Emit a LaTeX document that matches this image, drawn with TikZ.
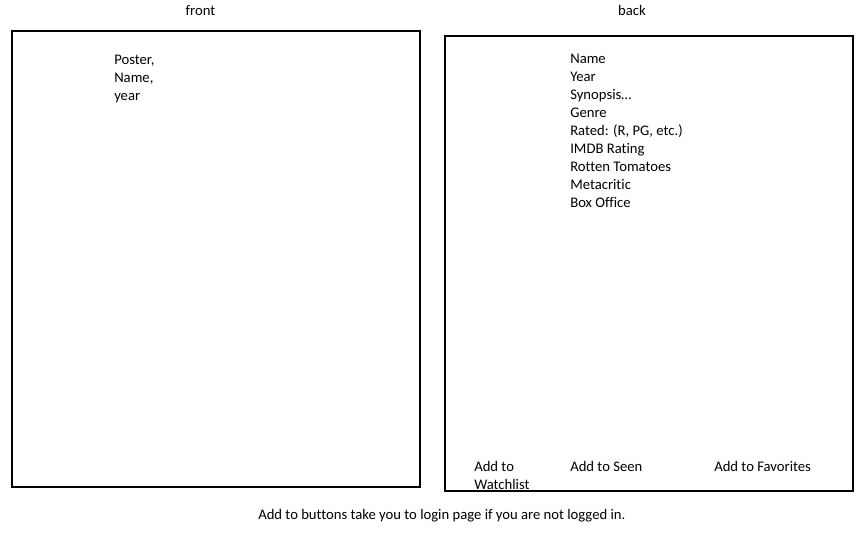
\documentclass[tikz,border=0pt]{standalone}
\usepackage{fontspec}
\setmainfont[Ligatures=NoCommon]{Carlito}
\usetikzlibrary{positioning}

\tikzset{
  card/.style={draw, line width=1.5pt},
  txt/.style={inner sep=0pt, anchor=base west, font=\fontsize{11}{13.5}\selectfont},
}

\begin{document}
\begin{tikzpicture}[x=0.75pt,y=-0.75pt]
  \useasboundingbox (0,0) rectangle (866,532);
  % titles
  \node[txt, anchor=base] (front) at (200.5,15) {front};
  \node[txt, anchor=base] (back)  at (632,15)   {back};
  % cards
  \draw[card] (12,31)  rectangle (420,487);  % front
  \draw[card] (445,36) rectangle (853,491);  % back
  % front side
  \node[txt] (poster) at (114,64)  {Poster,};
  \node[txt] (fname)  at (114,82)  {Name,};
  \node[txt] (fyear)  at (114,100) {year};
  % back side
  \node[txt] (name)     at (570,63)  {Name};
  \node[txt] (year)     at (570,81)  {Year};
  \node[txt] (synopsis) at (570,99)  {Synopsis\dots};
  \node[txt] (genre)    at (570,117) {Genre};
  \node[txt] (rated)    at (570,135) {Rated: (R, PG, etc.)};
  \node[txt] (imdb)     at (570,153) {IMDB Rating};
  \node[txt] (rotten)   at (570,171) {Rotten Tomatoes};
  \node[txt] (meta)     at (570,189) {Metacritic};
  \node[txt] (boxoff)   at (570,207) {Box Office};
  % buttons
  \node[txt] (watch)  at (474,471) {Add to};
  \node[txt] (watch2) at (474,489) {Watchlist};
  \node[txt] (seen)   at (570,471) {Add to Seen};
  \node[txt] (fav)    at (714,471) {Add to Favorites};
  % note
  \node[txt] (note) at (258,519) {Add to buttons take you to login page if you are not logged in.};
\end{tikzpicture}
\end{document}
